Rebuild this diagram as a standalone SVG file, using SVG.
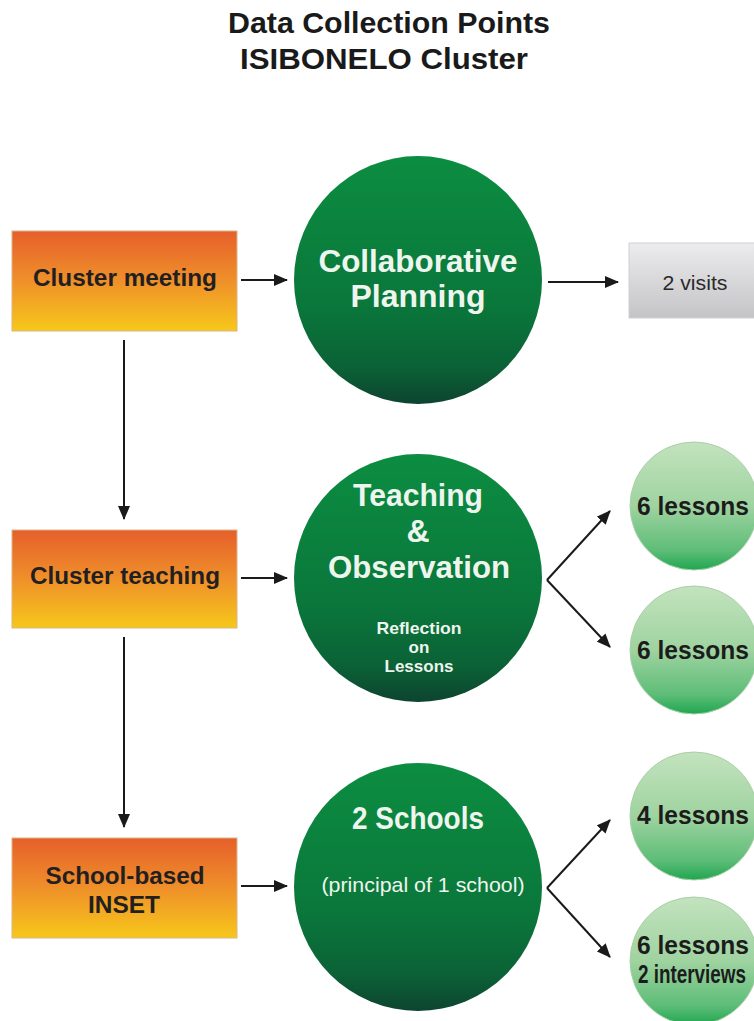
<svg xmlns="http://www.w3.org/2000/svg" width="754" height="1021" viewBox="0 0 754 1021">
<defs>
<linearGradient id="orange" x1="0" y1="0" x2="0" y2="1">
<stop offset="0" stop-color="#e65f2b"/>
<stop offset="0.5" stop-color="#ef902a"/>
<stop offset="1" stop-color="#f6c81a"/>
</linearGradient>
<linearGradient id="dkgreen" x1="0" y1="0" x2="0" y2="1">
<stop offset="0" stop-color="#0c8d41"/>
<stop offset="0.6" stop-color="#0a773b"/>
<stop offset="0.85" stop-color="#0b6236"/>
<stop offset="1" stop-color="#0d4430"/>
</linearGradient>
<linearGradient id="ltgreen" x1="0" y1="0" x2="0" y2="1">
<stop offset="0" stop-color="#c3e3be"/>
<stop offset="0.5" stop-color="#9fd3a0"/>
<stop offset="0.85" stop-color="#5dbd78"/>
<stop offset="1" stop-color="#1fa650"/>
</linearGradient>
<linearGradient id="gray" x1="0" y1="0" x2="0" y2="1">
<stop offset="0" stop-color="#ececee"/>
<stop offset="1" stop-color="#c4c4c7"/>
</linearGradient>
<marker id="arr" markerUnits="userSpaceOnUse" markerWidth="14" markerHeight="12" refX="13" refY="6" orient="auto">
<path d="M0,0 L14,6 L0,12 Z" fill="#1a1a1a"/>
</marker>
</defs>
<style>
.title{font-family:"Liberation Sans",Arial,sans-serif;font-weight:bold;font-size:30px;fill:#1a1a1a;text-anchor:middle}
.box{fill:url(#orange);stroke:#d9b48a;stroke-width:1}
.boxt{font-family:"Liberation Sans",Arial,sans-serif;font-weight:bold;font-size:23px;fill:#231f20;text-anchor:middle}
.big{fill:url(#dkgreen)}
.bigt{font-family:"Liberation Sans",Arial,sans-serif;font-weight:bold;font-size:32px;fill:#eef5ee;text-anchor:middle}
.smt{font-family:"Liberation Sans",Arial,sans-serif;font-weight:bold;font-size:17px;fill:#eef5ee;text-anchor:middle}
.regt{font-family:"Liberation Sans",Arial,sans-serif;font-size:21px;fill:#eef5ee;text-anchor:middle}
.lt{fill:url(#ltgreen);stroke:#a9cfa6;stroke-width:1}
.ltt{font-family:"Liberation Sans",Arial,sans-serif;font-weight:bold;font-size:25px;fill:#1c1c1c;text-anchor:middle}
.conn{stroke:#1a1a1a;stroke-width:2;fill:none;marker-end:url(#arr)}
</style>
<rect width="754" height="1021" fill="#ffffff"/>
<g id="title">
<text class="title" x="389" y="33" textLength="322" lengthAdjust="spacingAndGlyphs">Data Collection Points</text>
<text class="title" x="384" y="69" textLength="288" lengthAdjust="spacingAndGlyphs">ISIBONELO Cluster</text>
</g>
<g id="cluster-meeting">
<rect class="box" x="12" y="231" width="225" height="100"/>
<text class="boxt" x="125" y="286" textLength="184" lengthAdjust="spacingAndGlyphs">Cluster meeting</text>
</g>
<g id="cluster-teaching">
<rect class="box" x="12" y="530" width="225" height="98"/>
<text class="boxt" x="125" y="584" textLength="190" lengthAdjust="spacingAndGlyphs">Cluster teaching</text>
</g>
<g id="school-inset">
<rect class="box" x="12" y="838" width="225" height="100"/>
<text class="boxt" x="125" y="884" textLength="159" lengthAdjust="spacingAndGlyphs">School-based</text>
<text class="boxt" x="124" y="913" textLength="72" lengthAdjust="spacingAndGlyphs">INSET</text>
</g>
<g id="collab-planning">
<circle class="big" cx="418" cy="280" r="124"/>
<text class="bigt" x="418" y="272" textLength="199" lengthAdjust="spacingAndGlyphs">Collaborative</text>
<text class="bigt" x="418" y="307">Planning</text>
</g>
<g id="teaching-observation">
<circle class="big" cx="418" cy="578" r="124"/>
<text class="bigt" x="418" y="506" textLength="130" lengthAdjust="spacingAndGlyphs">Teaching</text>
<text class="bigt" x="418" y="542">&amp;</text>
<text class="bigt" x="419" y="578" textLength="182" lengthAdjust="spacingAndGlyphs">Observation</text>
<text class="smt" x="419" y="634" textLength="85" lengthAdjust="spacingAndGlyphs">Reflection</text>
<text class="smt" x="419" y="653">on</text>
<text class="smt" x="419" y="672" textLength="69" lengthAdjust="spacingAndGlyphs">Lessons</text>
</g>
<g id="two-schools">
<circle class="big" cx="418" cy="887" r="124"/>
<text class="bigt" x="418" y="829" textLength="132" lengthAdjust="spacingAndGlyphs">2 Schools</text>
<text class="regt" x="423" y="892" textLength="203" lengthAdjust="spacingAndGlyphs">(principal of 1 school)</text>
</g>
<g id="two-visits">
<rect x="629" y="243" width="140" height="75" fill="url(#gray)" stroke="#d0d0d3" stroke-width="1"/>
<text x="695" y="290" font-family="'Liberation Sans',Arial,sans-serif" font-size="20" fill="#2a2a2a" text-anchor="middle" textLength="65" lengthAdjust="spacingAndGlyphs">2 visits</text>
</g>
<g id="lessons-1">
<circle class="lt" cx="694" cy="506" r="64"/>
<text class="ltt" x="693" y="515" textLength="112" lengthAdjust="spacingAndGlyphs">6 lessons</text>
</g>
<g id="lessons-2">
<circle class="lt" cx="694" cy="650" r="64"/>
<text class="ltt" x="693" y="659" textLength="112" lengthAdjust="spacingAndGlyphs">6 lessons</text>
</g>
<g id="lessons-3">
<circle class="lt" cx="694" cy="816" r="64"/>
<text class="ltt" x="693" y="824" textLength="112" lengthAdjust="spacingAndGlyphs">4 lessons</text>
</g>
<g id="lessons-4">
<circle class="lt" cx="694" cy="961" r="64"/>
<text class="ltt" x="693" y="954" font-size="23" textLength="112" lengthAdjust="spacingAndGlyphs">6 lessons</text>
<text class="ltt" x="692" y="983" font-size="18" textLength="108" lengthAdjust="spacingAndGlyphs">2 interviews</text>
</g>
<g id="connectors">
<line class="conn" x1="241" y1="280" x2="287" y2="280"/>
<line class="conn" x1="548" y1="282" x2="618" y2="282"/>
<line class="conn" x1="241" y1="578" x2="287" y2="578"/>
<line class="conn" x1="241" y1="886" x2="287" y2="886"/>
<line class="conn" x1="124" y1="340" x2="124" y2="519"/>
<line class="conn" x1="124" y1="637" x2="124" y2="827"/>
<path class="conn" d="M547,580 L610,511"/>
<path class="conn" d="M547,580 L610,647"/>
<path class="conn" d="M547,888 L610,820"/>
<path class="conn" d="M547,888 L610,957"/>
</g>
</svg>
